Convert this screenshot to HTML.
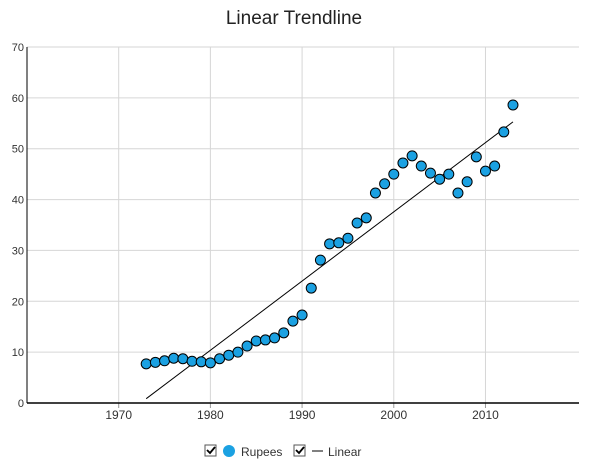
<!DOCTYPE html>
<html><head><meta charset="utf-8"><style>
body{margin:0;background:#fff;font-family:"Liberation Sans",sans-serif;}
svg text{font-family:"Liberation Sans",sans-serif;}
</style></head><body>
<svg id="chart" width="589" height="466">
<text x="294" y="24" text-anchor="middle" font-size="19" fill="#222">Linear Trendline</text>
<g id="grid"></g><g id="axes"></g><g id="trend"></g><g id="pts"></g>
<g>
<g>
<rect x="205" y="445" width="11" height="11" fill="#fff" stroke="#555"/>
<path d="M207 450 l3 3 l5 -6" stroke="#000" stroke-width="1.8" fill="none"/>
<circle cx="229" cy="451" r="6" fill="#1ba1e2"/>
<text x="241" y="456" font-size="12" fill="#333">Rupees</text></g>
<g>
<rect x="294" y="445" width="11" height="11" fill="#fff" stroke="#555"/>
<path d="M296 450 l3 3 l5 -6" stroke="#000" stroke-width="1.8" fill="none"/>
<line x1="312" y1="451" x2="323" y2="451" stroke="#000"/>
<text x="328" y="456" font-size="12" fill="#333">Linear</text></g>
</g>
</svg>
<script>
const years=[1973,1974,1975,1976,1977,1978,1979,1980,1981,1982,1983,1984,1985,1986,1987,1988,1989,1990,1991,1992,1993,1994,1995,1996,1997,1998,1999,2000,2001,2002,2003,2004,2005,2006,2007,2008,2009,2010,2011,2012,2013];
const rupees=[7.7,8.0,8.3,8.8,8.7,8.2,8.1,7.9,8.7,9.4,10.0,11.2,12.2,12.4,12.8,13.8,16.1,17.3,22.6,28.1,31.3,31.5,32.4,35.4,36.4,41.3,43.1,45.0,47.2,48.6,46.6,45.2,44.0,45.0,41.3,43.5,48.4,45.6,46.6,53.3,58.6];
const xTicks=[1970,1980,1990,2000,2010];
const yTicks=[0,10,20,30,40,50,60,70];
const L=27,R=579,T=47,B=403,xMin=1960,xMax=2020.2,yMax=70;
const sx=v=>L+(v-xMin)/(xMax-xMin)*(R-L), sy=v=>B-v/yMax*(B-T);
const NS="http://www.w3.org/2000/svg";
function mk(tag,attrs,parent){const e=document.createElementNS(NS,tag);for(const k in attrs)e.setAttribute(k,attrs[k]);document.getElementById(parent).appendChild(e);return e;}
yTicks.forEach(t=>{
 const g=mk('line',{x1:L,x2:R,y1:sy(t),y2:sy(t),stroke:'#d6d6d6'},'grid');
 
 
 const tx=mk('text',{x:L-3,y:sy(t)+4,'text-anchor':'end','font-size':11,fill:'#333'},'axes');tx.textContent=t;
 
 
});
xTicks.forEach(t=>{
 const g=mk('line',{x1:sx(t),x2:sx(t),y1:T,y2:B,stroke:'#d6d6d6'},'grid');
 
 
 mk('line',{x1:sx(t),x2:sx(t),y1:B,y2:B+5,stroke:'#999'},'axes');
 const tx=mk('text',{x:sx(t),y:B+16,'text-anchor':'middle','font-size':12,fill:'#333'},'axes');tx.textContent=t;
 
 
});
const ya=mk('line',{x1:L,x2:L,y1:T,y2:B,stroke:'#000'},'axes');


const xa=mk('line',{x1:L,x2:R,y1:B,y2:B,stroke:'#000','stroke-width':1.5},'axes');


const n=years.length;let mx=0,my=0;years.forEach((x,i)=>{mx+=x;my+=rupees[i];});mx/=n;my/=n;
let sxy=0,sxx=0;years.forEach((x,i)=>{sxy+=(x-mx)*(rupees[i]-my);sxx+=(x-mx)*(x-mx);});
const slope=sxy/sxx,ic=my-slope*mx;
const x0=years[0],x1=years[n-1];
const tl=mk('line',{x1:sx(x0),y1:sy(slope*x0+ic),x2:sx(x1),y2:sy(slope*x1+ic),stroke:'#000','stroke-width':1},'trend');


years.forEach((x,i)=>{
 const c=mk('circle',{cx:sx(x),cy:sy(rupees[i]),r:5,fill:'#1ba1e2',stroke:'#000','stroke-width':1},'pts');
 
 
});
</script>
</body></html>
